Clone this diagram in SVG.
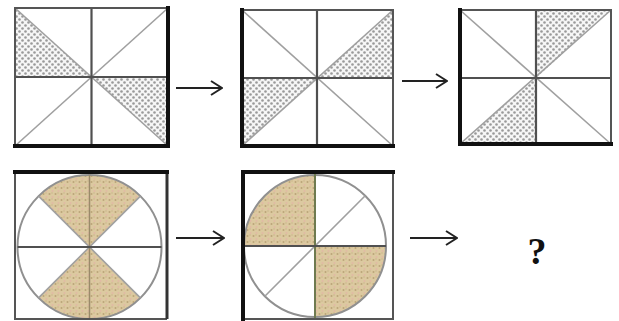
<svg xmlns="http://www.w3.org/2000/svg" width="619" height="321" viewBox="0 0 619 321">
<defs>
<style>
.diag{stroke:#a0a0a0;stroke-width:1.6;fill:none}
.mid{stroke:#505050;stroke-width:2.2;fill:none}
.thin{stroke:#555;stroke-width:2;fill:none}
.thick{stroke:#111;stroke-width:4;fill:none;stroke-linecap:square}
.circ{stroke:#909090;stroke-width:2;fill:none}
.dots{fill:url(#dots)}
.tan{fill:url(#tan)}
.arrow{stroke:#222;stroke-width:2;fill:none;marker-end:url(#ah)}
.q{font-family:"Liberation Serif",serif;font-weight:bold;font-size:38px;fill:#111}
</style>
<pattern id="dots" width="6" height="6" patternUnits="userSpaceOnUse">
<rect width="6" height="6" fill="#f6f6f6"/>
<circle cx="1.5" cy="1.5" r="1.3" fill="#999"/>
<circle cx="4.5" cy="4.5" r="1.3" fill="#999"/>
</pattern>
<pattern id="tan" width="6" height="6" patternUnits="userSpaceOnUse">
<rect width="6" height="6" fill="#dcc9a0"/>
<circle cx="1.5" cy="2" r="1" fill="#bba578"/>
<circle cx="4.5" cy="5" r="1" fill="#e2b9a4"/>
<circle cx="4" cy="1" r="0.7" fill="#c8b388"/>
</pattern>
<marker id="ah" viewBox="0 0 14 16" refX="13" refY="8" markerWidth="14" markerHeight="16" markerUnits="userSpaceOnUse" orient="auto">
<path d="M2,1 L13,8 L2,15" fill="none" stroke="#222" stroke-width="2"/>
</marker>
</defs>
<rect width="619" height="321" fill="#fff"/>

<g id="box1">
<polygon class="dots" points="15,8 15,77 91.5,77"/>
<polygon class="dots" points="91.5,77 168,77 168,146"/>
<line class="diag" x1="15" y1="8" x2="168" y2="146"/>
<line class="diag" x1="15" y1="146" x2="168" y2="8"/>
<line class="mid" x1="91.5" y1="8" x2="91.5" y2="146"/>
<line class="mid" x1="15" y1="77" x2="168" y2="77"/>
<polyline class="thin" points="168,8 15,8 15,146"/>
<polyline class="thick" points="168,8 168,146 15,146"/>
</g>

<g id="box2">
<polygon class="dots" points="317,78 393,10 393,78"/>
<polygon class="dots" points="242,78 317,78 242,146"/>
<line class="diag" x1="242" y1="10" x2="393" y2="146"/>
<line class="diag" x1="242" y1="146" x2="393" y2="10"/>
<line class="mid" x1="317" y1="10" x2="317" y2="146"/>
<line class="mid" x1="242" y1="78" x2="393" y2="78"/>
<polyline class="thin" points="242,10 393,10 393,146"/>
<polyline class="thick" points="242,10 242,146 393,146"/>
</g>

<g id="box3">
<polygon class="dots" points="536,10 611,10 536,78"/>
<polygon class="dots" points="536,78 536,144 460,144"/>
<line class="diag" x1="460" y1="10" x2="611" y2="144"/>
<line class="diag" x1="460" y1="144" x2="611" y2="10"/>
<line class="mid" x1="536" y1="10" x2="536" y2="144"/>
<line class="mid" x1="460" y1="78" x2="611" y2="78"/>
<polyline class="thin" points="460,10 611,10 611,144"/>
<polyline class="thick" points="460,10 460,144 611,144"/>
</g>

<g id="box4">
<path class="tan" d="M89.5,247 L38.6,196.1 A72,72 0 0 1 140.4,196.1 Z"/>
<path class="tan" d="M89.5,247 L140.4,297.9 A72,72 0 0 1 38.6,297.9 Z"/>
<circle class="circ" cx="89.5" cy="247" r="72"/>
<line class="diag" x1="38.6" y1="196.1" x2="140.4" y2="297.9"/>
<line class="diag" x1="140.4" y1="196.1" x2="38.6" y2="297.9"/>
<line x1="89.5" y1="175" x2="89.5" y2="319" stroke="#9a8a6a" stroke-width="1.5"/>
<line class="mid" x1="17.5" y1="247" x2="161.5" y2="247"/>
<polyline class="thin" points="15,172 15,319 167,319"/>
<line x1="167" y1="172" x2="167" y2="319" stroke="#333" stroke-width="3"/>
<line class="thick" x1="15" y1="172" x2="167" y2="172"/>
</g>

<g id="box5">
<path class="tan" d="M315,246 L315,175 A71,71 0 0 0 244,246 Z"/>
<path class="tan" d="M315,246 L386,246 A71,71 0 0 1 315,317 Z"/>
<circle class="circ" cx="315" cy="246" r="71"/>
<line class="diag" x1="365.2" y1="195.8" x2="264.8" y2="296.2"/>
<line x1="315" y1="172" x2="315" y2="319" stroke="#6f7a50" stroke-width="2"/>
<line class="mid" x1="244" y1="246" x2="386" y2="246"/>
<polyline class="thin" points="393,172 393,319 243,319"/>
<polyline class="thick" points="393,172 243,172 243,319"/>
</g>

<g id="connectors">
<line class="arrow" x1="176" y1="88" x2="222" y2="88"/>
<line class="arrow" x1="402" y1="81" x2="447" y2="81"/>
<line class="arrow" x1="176" y1="238" x2="224" y2="238"/>
<line class="arrow" x1="410" y1="238" x2="457" y2="238"/>
</g>

<g id="question">
<text class="q" x="537" y="264" text-anchor="middle">?</text>
</g>
</svg>
